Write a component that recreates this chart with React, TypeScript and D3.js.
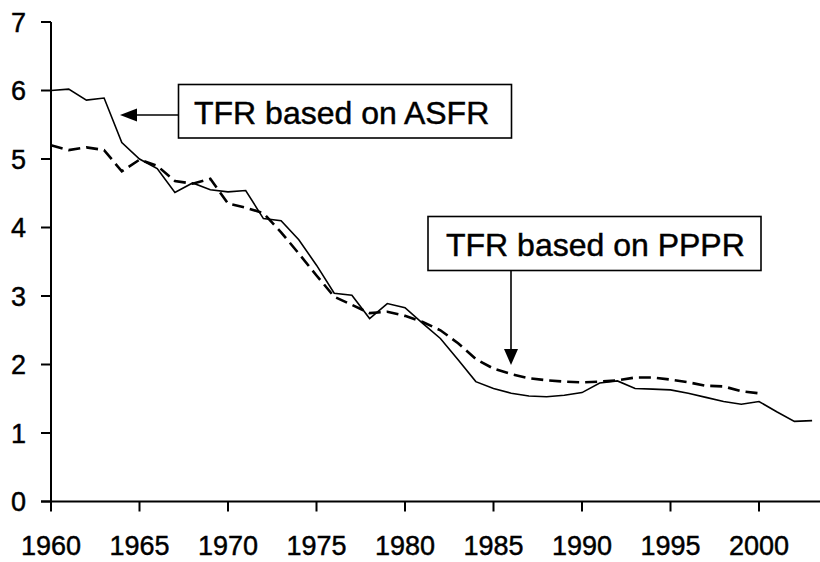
import React from "react";
import * as d3 from "d3";

const asfrYears = d3.range(1960, 2004);
const asfrValues = [
  6.0, 6.02, 5.86, 5.89, 5.24, 5.0, 4.86, 4.51, 4.65, 4.55,
  4.52, 4.54, 4.13, 4.1, 3.82, 3.45, 3.04, 3.01, 2.67, 2.89,
  2.83, 2.6, 2.38, 2.07, 1.75, 1.65, 1.58, 1.54, 1.53, 1.55,
  1.59, 1.73, 1.76, 1.65, 1.64, 1.63, 1.58, 1.52, 1.46, 1.42,
  1.46, 1.31, 1.17, 1.18,
];
const ppprYears = d3.range(1960, 2001);
const ppprValues = [
  5.2, 5.13, 5.17, 5.13, 4.82, 4.99, 4.9, 4.68, 4.64, 4.71,
  4.35, 4.29, 4.21, 3.93, 3.62, 3.3, 2.99, 2.87, 2.75, 2.77,
  2.71, 2.62, 2.5, 2.31, 2.08, 1.94, 1.86, 1.8, 1.77, 1.75,
  1.74, 1.75, 1.77, 1.81, 1.81, 1.78, 1.74, 1.69, 1.68, 1.61,
  1.58,
];
const xTicks = [1960, 1965, 1970, 1975, 1980, 1985, 1990, 1995, 2000];
const yTicks = [0, 1, 2, 3, 4, 5, 6, 7];
const labelASFR = "TFR based on ASFR";
const labelPPPR = "TFR based on PPPR";

export default function App() {
  const W = 820, H = 562;
  const x = d3.scaleLinear().domain([1960, 2000]).range([51, 759]);
  const y = d3.scaleLinear().domain([0, 7]).range([501.5, 22]);
  const line = d3.line<[number, number]>().x((d) => x(d[0])).y((d) => y(d[1]));
  const asfr = asfrYears.map((yr, i) => [yr, asfrValues[i]] as [number, number]);
  const pppr = ppprYears.map((yr, i) => [yr, ppprValues[i]] as [number, number]);
  const font = "'Liberation Sans', Arial, sans-serif";
  const txt = { fill: "#000", stroke: "#000", strokeWidth: 0.45 };

  return (
    <svg width={W} height={H} style={{ position: "absolute", left: 0, top: 0, background: "#fff" }}
      fontFamily={font}>
      <rect x={0} y={0} width={W} height={H} fill="#fff" />
      {/* axes */}
      <line x1={x(1960)} x2={x(1960)} y1={y(7)} y2={y(0)} stroke="#000" strokeWidth={2} />
      <line x1={x(1960) - 10} x2={820} y1={y(0)} y2={y(0)} stroke="#000" strokeWidth={2} />
      {yTicks.map((t) => (
        <g key={"y" + t}>
          <line x1={x(1960) - 10} x2={x(1960)} y1={y(t)} y2={y(t)} stroke="#000" strokeWidth={2} />
          <text x={26} y={y(t) + 9.5} fontSize={27} textAnchor="end" {...txt}>{t}</text>
        </g>
      ))}
      {xTicks.map((t) => (
        <g key={"x" + t}>
          <line x1={x(t)} x2={x(t)} y1={y(0)} y2={y(0) + 10} stroke="#000" strokeWidth={2} />
          <text x={x(t)} y={555} fontSize={27} textAnchor="middle" {...txt}>{t}</text>
        </g>
      ))}
      {/* series */}
      <path d={line(pppr) || ""} fill="none" stroke="#000" strokeWidth={2.6}
        strokeDasharray="12 6" />
      <path d={line(asfr) || ""} fill="none" stroke="#000" strokeWidth={1.6} />
      {/* annotation 1 */}
      <rect x={178.5} y={84.5} width={333} height={53.5} fill="#fff" stroke="#000" strokeWidth={1.6} />
      <text x={194} y={124} fontSize={32} {...txt}>{labelASFR}</text>
      <line x1={178.5} x2={134} y1={115} y2={115} stroke="#000" strokeWidth={1.6} />
      <path d="M120,115 L137,108.5 L137,121.5 Z" fill="#000" />
      {/* annotation 2 */}
      <rect x={428} y={216.5} width={333} height={54} fill="#fff" stroke="#000" strokeWidth={1.6} />
      <text x={446} y={256} fontSize={32} {...txt}>{labelPPPR}</text>
      <line x1={511} x2={511} y1={270.5} y2={352} stroke="#000" strokeWidth={1.6} />
      <path d="M511,365 L504,349 L518,349 Z" fill="#000" />
    </svg>
  );
}
